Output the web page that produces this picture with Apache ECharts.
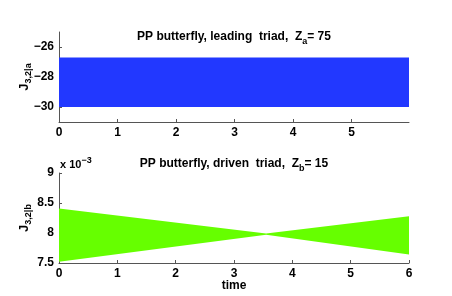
<!DOCTYPE html>
<html><head><meta charset="utf-8">
<script src="https://cdn.jsdelivr.net/npm/echarts@6/dist/echarts.min.js"></script>
<style>html,body{margin:0;padding:0;background:#fff}#c{width:452px;height:296px}</style>
</head><body><div id="c"></div>
<script>
// Top panel: leading triad (envelope of the fast oscillation)
const timeA = [0, 5.98];
const upperA = [-26.7, -26.7];
const lowerA = [-30.0, -30.0];
// Bottom panel: driven triad, values in units of 10^-3
const timeB = [0, 3.55, 6];
const upperB = [8.41, 7.99, 8.28];
const lowerB = [7.52, 7.97, 7.64];
const xTicksA = [0, 1, 2, 3, 4, 5];
const xTicksB = [0, 1, 2, 3, 4, 5, 6];
const yTicksA = [-30, -28, -26];
const yTicksB = [7.5, 8, 8.5, 9];

const FONT = "'Liberation Sans', Arial, Helvetica, sans-serif";
const AX = '#555';
const blue = '#2238ff';
const green = '#66ff00';

function xAxis(gi, max, ticks) {
  return {
    type: 'value', gridIndex: gi, min: 0, max: max,
    axisLine: {show: true, onZero: false, lineStyle: {color: AX, width: 1}},
    axisTick: {show: true, inside: true, length: 3, customValues: ticks, lineStyle: {color: AX}},
    axisLabel: {customValues: ticks, margin: 5, color: '#000', fontFamily: FONT, fontWeight: 'bold', fontSize: 12},
    splitLine: {show: false}
  };
}
function yAxis(gi, min, max, ticks) {
  return {
    type: 'value', gridIndex: gi, min: min, max: max,
    axisLine: {show: true, onZero: false, lineStyle: {color: AX, width: 1}},
    axisTick: {show: true, inside: true, length: 3, customValues: ticks, lineStyle: {color: AX}},
    axisLabel: {customValues: ticks, margin: 5, color: '#000', fontFamily: FONT, fontWeight: 'bold', fontSize: 12,
      formatter: v => String(v).replace('-', '\u2212')},
    splitLine: {show: false}
  };
}
function band(xi, yi, xs, up, lo, color) {
  return {
    type: 'custom', xAxisIndex: xi, yAxisIndex: yi, silent: true, animation: false,
    data: xs.map((x, i) => [x, lo[i], up[i]]),
    encode: {x: 0, y: [1, 2]},
    renderItem: function (params, api) {
      if (params.dataIndex !== 0) return null;
      const pts = [];
      for (let i = 0; i < xs.length; i++) pts.push(api.coord([xs[i], up[i]]));
      for (let i = xs.length - 1; i >= 0; i--) pts.push(api.coord([xs[i], lo[i]]));
      return {type: 'polygon', shape: {points: pts}, style: {fill: color}};
    }
  };
}

const subRich = {
  s: {fontSize: 9, fontWeight: 'bold', fontFamily: FONT, padding: [9, 0, 0, 0]},
  sup: {fontSize: 9, fontWeight: 'bold', fontFamily: FONT, padding: [0, 0, 8, 0]}
};
function txt(x, y, text, opts) {
  return Object.assign({
    type: 'text', x: x, y: y, z: 100,
    style: Object.assign({text: text, fill: '#000', font: 'bold 12px ' + FONT,
      align: 'center', verticalAlign: 'middle', rich: subRich}, (opts && opts.style) || {})
  }, (opts && opts.extra) || {});
}

const chart = echarts.init(document.getElementById('c'), null, {renderer: 'canvas'});
chart.setOption({
  animation: false,
  backgroundColor: '#fff',
  grid: [
    {left: 59, top: 32, width: 350, height: 90},
    {left: 59, top: 173, width: 350, height: 90}
  ],
  xAxis: [xAxis(0, 5.98, xTicksA), xAxis(1, 6, xTicksB)],
  yAxis: [yAxis(0, -31, -25, yTicksA), yAxis(1, 7.5, 9, yTicksB)],
  series: [
    band(0, 0, timeA, upperA, lowerA, blue),
    band(1, 1, timeB, upperB, lowerB, green)
  ],
  graphic: [
    txt(234, 37, 'PP butterfly, leading  triad,  Z{s|a}= 75'),
    txt(234, 164, 'PP butterfly, driven  triad,  Z{s|b}= 15'),
    txt(60, 165, 'x 10{sup|\u22123}', {style: {align: 'left', font: 'bold 11px ' + FONT}}),
    txt(24, 77, 'J{s|3,2|a}', {extra: {rotation: Math.PI / 2}, style: {font: 'bold 13px ' + FONT}}),
    txt(24, 218, 'J{s|3,2|b}', {extra: {rotation: Math.PI / 2}, style: {font: 'bold 13px ' + FONT}}),
    txt(234, 286, 'time')
  ]
});
</script></body></html>
